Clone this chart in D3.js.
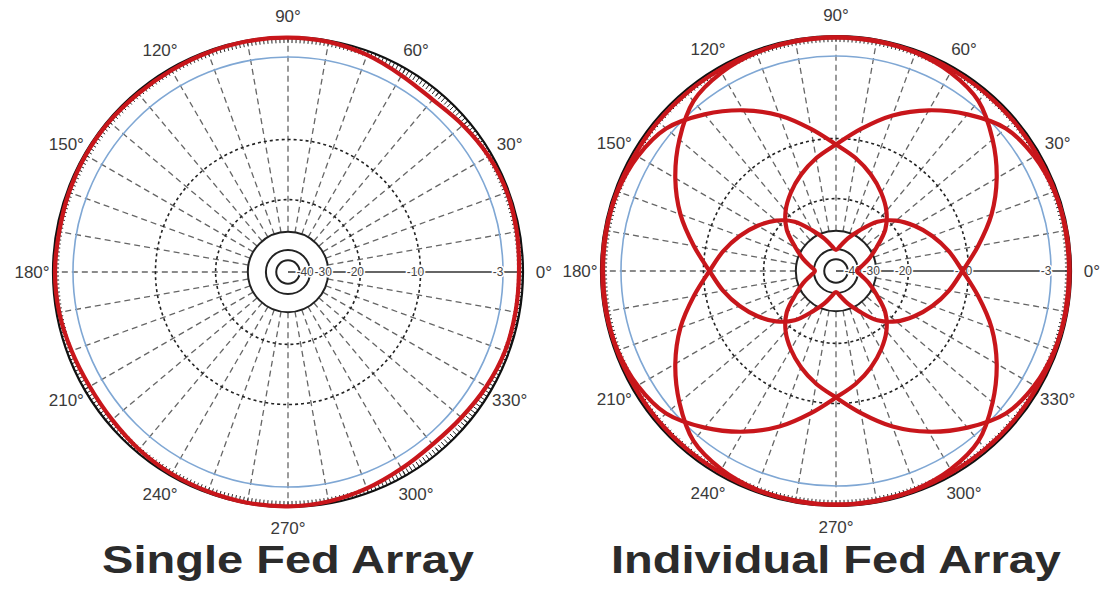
<!DOCTYPE html>
<html>
<head>
<meta charset="utf-8">
<script src="https://cdn.jsdelivr.net/npm/d3@7/dist/d3.min.js"></script>
<style>
body { margin: 0; background: #fff; }
svg { display: block; font-family: "Liberation Sans", Arial, sans-serif; }
</style>
</head>
<body>
<svg id="chart" width="1100" height="593"></svg>
<script>
// grid of the log-ish radial scale: dB -> fraction of outer radius
var ringDb   = [-50, -40, -30, -20, -10, -3, 0];
var ringFrac = [0.05, 0.094, 0.171, 0.308, 0.564, 0.915, 1];

var ringLabels = [
  {db: -40, text: '-40'}, {db: -30, text: '-30'}, {db: -20, text: '-20'},
  {db: -10, text: '-10'}, {db: -3, text: '-3'}
];
var angleTicks = [0, 30, 60, 90, 120, 150, 180, 210, 240, 270, 300, 330];
var spokeAngles = [10, 20, 30, 40, 50, 60, 70, 80, 90, 100, 110, 120, 130, 140, 150, 160, 170,
                   180, 190, 200, 210, 220, 230, 240, 250, 260, 270, 280, 290, 300, 310, 320, 330, 340, 350];
var sampleAngles = [0, 10, 20, 30, 40, 50, 60, 70, 80, 90, 100, 110, 120, 130, 140, 150, 160, 170,
                    180, 190, 200, 210, 220, 230, 240, 250, 260, 270, 280, 290, 300, 310, 320, 330, 340, 350];

// single fed array, dB at each sample angle
var singleFed = [-0.6, -0.4, -0.3, -0.5, -1.0, -1.5, -1.2, -0.6, -0.2, -0.1, -0.1, -0.2, -0.3, -0.3, -0.2, -0.2, -0.3, -0.4,
                 -0.3, -0.4, -0.7, -0.9, -0.8, -0.5, -0.3, -0.2, -0.1, -0.1, -0.3, -0.7, -1.2, -1.5, -1.3, -0.9, -0.6, -0.6];

// individual fed array, one beam per feed (dB at each sample angle)
var beam0   = [-0.2, -0.2, -0.4, -0.9, -2.0, -3.9, -5.5, -7.2, -9.0, -11, -13, -15, -17, -19, -22.5, -28, -33, -38,
               -41, -38, -33, -28, -22.5, -19, -17, -15, -13, -11, -9.0, -7.2, -5.5, -3.9, -2.0, -0.9, -0.4, -0.2];
var beam90  = [-11, -9.0, -7.2, -5.5, -3.9, -2.0, -0.9, -0.4, -0.2, -0.2, -0.2, -0.4, -0.9, -2.0, -3.9, -5.5, -7.2, -9.0,
               -11, -13, -15, -17, -19, -22.5, -28, -33, -38, -41, -38, -33, -28, -22.5, -19, -17, -15, -13];
var beam180 = [-41, -38, -33, -28, -22.5, -19, -17, -15, -13, -11, -9.0, -7.2, -5.5, -3.9, -2.0, -0.9, -0.4, -0.2,
               -0.2, -0.2, -0.4, -0.9, -2.0, -3.9, -5.5, -7.2, -9.0, -11, -13, -15, -17, -19, -22.5, -28, -33, -38];
var beam270 = [-11, -13, -15, -17, -19, -22.5, -28, -33, -38, -41, -38, -33, -28, -22.5, -19, -17, -15, -13,
               -11, -9.0, -7.2, -5.5, -3.9, -2.0, -0.9, -0.4, -0.2, -0.2, -0.2, -0.4, -0.9, -2.0, -3.9, -5.5, -7.2, -9.0];
// combined envelope of the four feeds, hugging the rim
var combined = [-0.3, -0.3, -0.3, -0.4, -0.4, -0.4, -0.4, -0.3, -0.3, -0.2, -0.3, -0.3, -0.4, -0.4, -0.4, -0.4, -0.3, -0.3,
                -0.3, -0.3, -0.3, -0.4, -0.4, -0.4, -0.4, -0.3, -0.3, -0.2, -0.3, -0.3, -0.4, -0.4, -0.4, -0.4, -0.3, -0.3];

var titles = ['Single Fed Array', 'Individual Fed Array'];

var R = 235;
var svg = d3.select('#chart');

var r = d3.scaleLinear().domain(ringDb).range(ringFrac.map(f => f * R)).clamp(true);
var rad = (a) => a * Math.PI / 180;

function polarPlot(cx, cy, series, title, titleWidth) {
  var g = svg.append('g').attr('transform', `translate(${cx},${cy})`);

  // dashed spokes, from the -30 ring out to the rim
  g.selectAll('.spoke').data(spokeAngles).enter().append('line')
    .attr('x1', d => r(-30) * Math.cos(rad(d))).attr('y1', d => -r(-30) * Math.sin(rad(d)))
    .attr('x2', d => R * Math.cos(rad(d))).attr('y2', d => -R * Math.sin(rad(d)))
    .attr('stroke', '#666').attr('stroke-width', 1.3).attr('stroke-dasharray', '6,4');

  // dotted rings
  g.selectAll('.dring').data([-20, -10]).enter().append('circle')
    .attr('r', d => r(d)).attr('fill', 'none')
    .attr('stroke', '#222').attr('stroke-width', 1.6).attr('stroke-dasharray', '3,3');

  // solid inner rings
  g.selectAll('.sring').data([-50, -40, -30]).enter().append('circle')
    .attr('r', d => r(d)).attr('fill', 'none').attr('stroke', '#222').attr('stroke-width', 2);

  // -3 dB ring
  g.append('circle').attr('r', r(-3)).attr('fill', 'none')
    .attr('stroke', '#7fa7d4').attr('stroke-width', 1.6);

  // 0 deg axis line
  g.append('line').attr('x1', 0).attr('x2', R).attr('stroke', '#333').attr('stroke-width', 1.6);

  // rim with degree ticks
  var degs = d3.range(0, 360, 1);
  g.selectAll('.tick').data(degs).enter().append('line')
    .attr('x1', d => (R - 6) * Math.cos(rad(d))).attr('y1', d => -(R - 6) * Math.sin(rad(d)))
    .attr('x2', d => R * Math.cos(rad(d))).attr('y2', d => -R * Math.sin(rad(d)))
    .attr('stroke', '#222').attr('stroke-width', 1);
  g.append('circle').attr('r', R).attr('fill', 'none').attr('stroke', '#111').attr('stroke-width', 2.2);

  // ring labels on the 0 deg axis
  g.selectAll('.rlab').data(ringLabels).enter().append('text')
    .attr('x', d => r(d.db) - 5).attr('y', 4)
    .attr('text-anchor', 'middle').attr('font-size', 12).attr('fill', '#444')
    .attr('stroke', '#fff').attr('stroke-width', 3).attr('paint-order', 'stroke')
    .text(d => d.text);

  // pattern curves
  var line = d3.lineRadial()
    .angle((d, i) => rad(90 - sampleAngles[i]))
    .radius(d => r(d))
    .curve(d3.curveCatmullRomClosed.alpha(0.5));

  g.selectAll('.pattern').data(series).enter().append('path')
    .attr('d', line).attr('fill', 'none')
    .attr('stroke', '#c8161b').attr('stroke-width', 4.2).attr('stroke-linejoin', 'round');

  // angle labels
  g.selectAll('.alab').data(angleTicks).enter().append('text')
    .attr('x', d => 256 * Math.cos(rad(d))).attr('y', d => -256 * Math.sin(rad(d)) + 6)
    .attr('text-anchor', 'middle').attr('font-size', 17).attr('fill', '#3a3a3a')
    .text(d => d + '°');

  // title, glyphs widened to the reference width
  var t = svg.append('text')
    .attr('text-anchor', 'middle').attr('font-size', 38).attr('font-weight', 'bold')
    .attr('fill', '#2b2b2b').text(title);
  var sx = titleWidth / t.node().getComputedTextLength();
  t.attr('transform', `translate(${cx},573) scale(${sx},1)`);
}

polarPlot(288, 272, [singleFed], titles[0], 372);
polarPlot(836, 271, [combined, beam0, beam90, beam180, beam270], titles[1], 450);
</script>
</body>
</html>
